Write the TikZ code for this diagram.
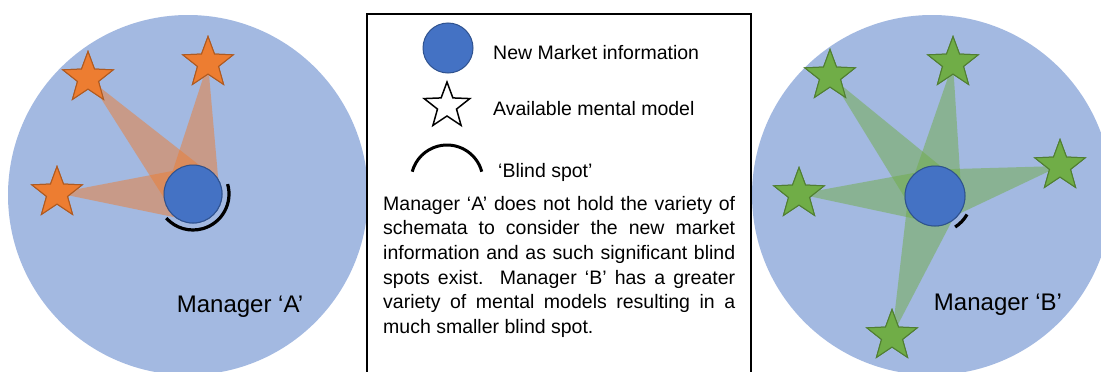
\documentclass[tikz,border=0pt]{standalone}
\usepackage{fontspec}
\setmainfont{Liberation Sans}
\usetikzlibrary{shapes.geometric,calc}

\definecolor{field}{HTML}{A3B9E1}
\definecolor{infofill}{HTML}{4472C4}
\definecolor{infoedge}{HTML}{2F528F}
\definecolor{orangefill}{HTML}{ED7D31}
\definecolor{orangeedge}{HTML}{AE5A21}
\definecolor{greenfill}{HTML}{70AD47}
\definecolor{greenedge}{HTML}{507E32}

\tikzset{
  field/.style={fill=field},
  info/.style={circle, fill=infofill, draw=infoedge, line width=1pt, inner sep=0pt, minimum size=#1},
  model/.style={star, star points=5, star point ratio=2.4, inner sep=0pt, minimum size=53pt, line width=1pt},
  modelA/.style={model, fill=orangefill, draw=orangeedge},
  modelB/.style={model, fill=greenfill, draw=greenedge},
  reachA/.style={fill=orangefill, fill opacity=0.5},
  reachB/.style={fill=greenfill, fill opacity=0.5},
  blind/.style={draw=black, line width=3.2pt},
  label/.style={font=\fontsize{24}{28}\selectfont, inner sep=0pt},
  legendtext/.style={font=\fontsize{19.5}{24}\selectfont, inner sep=0pt, anchor=base west}
}

\begin{document}
\begin{tikzpicture}[x=1pt, y=1pt]
\useasboundingbox (0,0) rectangle (1101,-372);

% ---------- Manager A ----------
\fill[field] (188,-195) circle (180);
\node[info=58pt] (dA) at (193,-194) {};
\node[modelA] (a1) at (88,-78) {};
\node[modelA] (a2) at (208,-63) {};
\node[modelA] (a3) at (57,-193) {};
\foreach \s in {a1,a2,a3} {
  \fill[reachA] (\s.center) -- ($(dA.center)!27pt!90:(\s.center)$)
                            -- ($(dA.center)!27pt!-90:(\s.center)$) -- cycle;
}
\draw[blind] (dA.center) ++(16:36pt) arc[start angle=16, end angle=-138, radius=36pt];
\node[info=58pt] at (dA.center) {};
\foreach \p in {{88,-78},{208,-63},{57,-193}} {
  \node[modelA] at (\p) {};
}
\node[label] (labA) at (240,-307) {Manager ‘A’};

% ---------- Manager B ----------
\fill[field] (932,-195) circle (180);
\node[info=60pt] (dB) at (935,-196) {};
\node[modelB] (b1) at (830,-76) {};
\node[modelB] (b2) at (953,-63) {};
\node[modelB] (b3) at (1060,-166) {};
\node[modelB] (b4) at (799,-194) {};
\node[modelB] (b5) at (892,-336) {};
\foreach \s in {b1,b2,b3,b4,b5} {
  \fill[reachB] (\s.center) -- ($(dB.center)!27pt!90:(\s.center)$)
                            -- ($(dB.center)!27pt!-90:(\s.center)$) -- cycle;
}
\draw[blind] (dB.center) ++(-30:37pt) arc[start angle=-30, end angle=-57, radius=37pt];
\node[info=60pt] at (dB.center) {};
\foreach \p in {{830,-76},{953,-63},{1060,-166},{799,-194},{892,-336}} {
  \node[modelB] at (\p) {};
}
\node[label] (labB) at (998,-305) {Manager ‘B’};

% ---------- Legend box ----------
\draw[fill=white, line width=1.5pt] (367,-14) rectangle (751,-390);
\node[info=50pt] (keyInfo) at (448,-48) {};
\node[model, minimum size=48pt, draw=black, line width=1.5pt, fill=white] (keyModel) at (447,-106) {};
\coordinate (keyBlind) at (447,-181);
\draw[blind, line width=3pt] (keyBlind) ++(15:36pt) arc[start angle=15, end angle=165, radius=36pt];

\node[legendtext] (t1) at (493,-59) {New Market information};
\node[legendtext] (t2) at (493,-115) {Available mental model};
\node[legendtext] (t3) at (498,-177) {‘Blind spot’};

\node[anchor=north west, inner sep=0pt, text width=352pt, align=justify,
      font=\fontsize{19.5}{24.6}\selectfont] (note) at (383,-196)
  {\hyphenpenalty=10000 Manager ‘A’ does not hold the variety of\linebreak
   schemata to consider the new market\linebreak
   information and as such significant blind\linebreak
   spots exist.\ \ Manager ‘B’ has a greater\linebreak
   variety of mental models resulting in a\linebreak
   much smaller blind spot.};
\end{tikzpicture}
\end{document}
